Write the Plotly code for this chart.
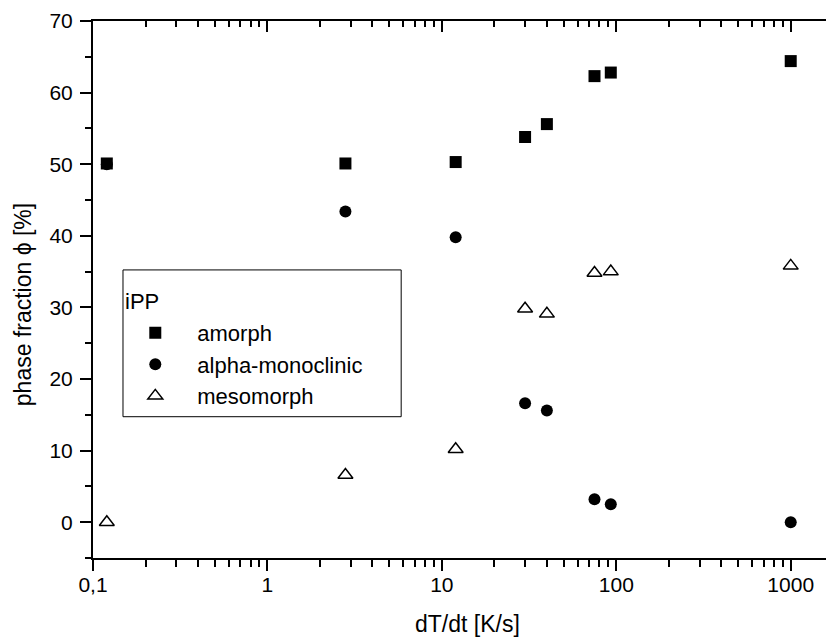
import plotly.graph_objects as go

# data
rate_amorph = [0.12, 2.8, 12, 30, 40, 75, 93, 1000]
phi_amorph = [50.1, 50.1, 50.3, 53.8, 55.6, 62.3, 62.8, 64.4]

rate_alpha = [0.12, 2.8, 12, 30, 40, 75, 93, 1000]
phi_alpha = [50.0, 43.4, 39.8, 16.6, 15.6, 3.2, 2.5, 0.0]

rate_meso = [0.12, 2.8, 12, 30, 40, 75, 93, 1000]
phi_meso = [0.0, 6.6, 10.2, 29.8, 29.1, 34.8, 35.0, 35.8]

x_major = [0.1, 1, 10, 100, 1000]
x_major_text = ["0,1", "1", "10", "100", "1000"]
x_minor = [m * d for d in [0.1, 1, 10, 100, 1000] for m in range(2, 10) if m * d < 1800]
y_major = [0, 10, 20, 30, 40, 50, 60, 70]
y_minor = [-5, 5, 15, 25, 35, 45, 55, 65]

FONT = "Liberation Sans, Arial, Helvetica, sans-serif"
OFF = 8  # page body margin
W, H = 834 - OFF, 639 - OFF
L, T = 92.7 - OFF, 20.7 - OFF
B = H - (558.5 - OFF)
R = 0
PW, PH = W - L - R, H - T - B
xr = [-1, -1 + PW / 174.5]
yr = [-5, 70]


def fx(p):  # page x px -> paper
    return (p - OFF - L) / PW


def fy(p):  # page y px -> paper
    return (H - B - (p - OFF)) / PH


fig = go.Figure()
fig.add_trace(go.Scatter(x=rate_alpha, y=phi_alpha, mode="markers", name="alpha-monoclinic",
                         legendrank=2, legendgroup="b",
                         marker=dict(symbol="circle", size=12, color="black", line=dict(width=0))))
fig.add_trace(go.Scatter(x=rate_meso, y=phi_meso, mode="markers", name="mesomorph",
                         legendrank=3, legendgroup="c",
                         marker=dict(symbol="triangle-up-open", size=13, color="black",
                                     line=dict(width=1.5, color="black"))))
fig.add_trace(go.Scatter(x=rate_amorph, y=phi_amorph, mode="markers", name="amorph",
                         legendrank=1, legendgroup="a",
                         marker=dict(symbol="square", size=12, color="black", line=dict(width=0))))
# invisible trace to anchor the mirror axes
fig.add_trace(go.Scatter(x=[1], y=[0], xaxis="x2", yaxis="y2", showlegend=False,
                         mode="markers", marker=dict(opacity=0), hoverinfo="skip"))

fig.update_layout(
    width=W, height=H,
    margin=dict(l=L, r=R, t=T, b=B, pad=0),
    plot_bgcolor="white", paper_bgcolor="white",
    font=dict(family=FONT, size=21, color="black"),
    showlegend=True,
    legend=dict(x=fx(113), y=(H - B - 304) / PH, xanchor="left", yanchor="top",
                bgcolor="rgba(0,0,0,0)", borderwidth=0, font=dict(size=22, family=FONT),
                tracegroupgap=0, itemwidth=74),
    xaxis=dict(type="log", range=xr, showline=True, linecolor="black", linewidth=2,
               ticks="outside", ticklen=11, tickwidth=1.5, tickcolor="black",
               tickmode="array", tickvals=x_major, ticktext=x_major_text,
               ticklabelstandoff=-4,
               minor=dict(tickmode="array", tickvals=x_minor, ticks="outside", ticklen=7,
                          tickwidth=1.5, tickcolor="black", showgrid=False),
               showgrid=False, zeroline=False, mirror=False,
               tickfont=dict(size=21)),
    yaxis=dict(range=yr, showline=True, linecolor="black", linewidth=2,
               ticks="outside", ticklen=11, tickwidth=1.5, tickcolor="black",
               tickmode="array", tickvals=y_major, ticklabelstandoff=3,
               minor=dict(tickmode="array", tickvals=y_minor, ticks="outside", ticklen=6,
                          tickwidth=1.5, tickcolor="black", showgrid=False),
               showgrid=False, zeroline=False,
               tickfont=dict(size=21)),
    xaxis2=dict(type="log", range=xr, overlaying="x", side="top", anchor="y",
                showline=True, linecolor="black", linewidth=2,
                ticks="inside", ticklen=11, tickwidth=1.5, tickcolor="black",
                tickmode="array", tickvals=x_major, showticklabels=False,
                minor=dict(tickmode="array", tickvals=x_minor, ticks="inside", ticklen=6,
                           tickwidth=1.5, tickcolor="black", showgrid=False),
                showgrid=False, zeroline=False),
    yaxis2=dict(range=yr, overlaying="y", side="right", anchor="x",
                showline=True, linecolor="black", linewidth=2,
                ticks="inside", ticklen=3, tickwidth=1.5, tickcolor="black",
                tickmode="array", tickvals=y_major, showticklabels=False,
                showgrid=False, zeroline=False),
)

# legend frame and title
fig.add_shape(type="rect", xref="paper", yref="paper",
              x0=fx(122.7), x1=fx(401), y0=fy(417), y1=fy(270),
              line=dict(color="black", width=1), fillcolor="rgba(0,0,0,0)")
fig.add_annotation(text="iPP", xref="paper", yref="paper", x=fx(123), y=fy(302),
                   xanchor="left", yanchor="middle", showarrow=False,
                   font=dict(size=22, family=FONT))

# axis titles
fig.add_annotation(text="dT/dt [K/s]", xref="paper", yref="paper", x=fx(467), y=fy(625),
                   xanchor="center", yanchor="middle", showarrow=False,
                   font=dict(size=23, family=FONT))
fig.add_annotation(text="phase fraction ϕ [%]", xref="paper", yref="paper", x=fx(23), y=fy(305),
                   xanchor="center", yanchor="middle", showarrow=False, textangle=-90,
                   font=dict(size=23, family=FONT))

fig.write_html("out.html")
